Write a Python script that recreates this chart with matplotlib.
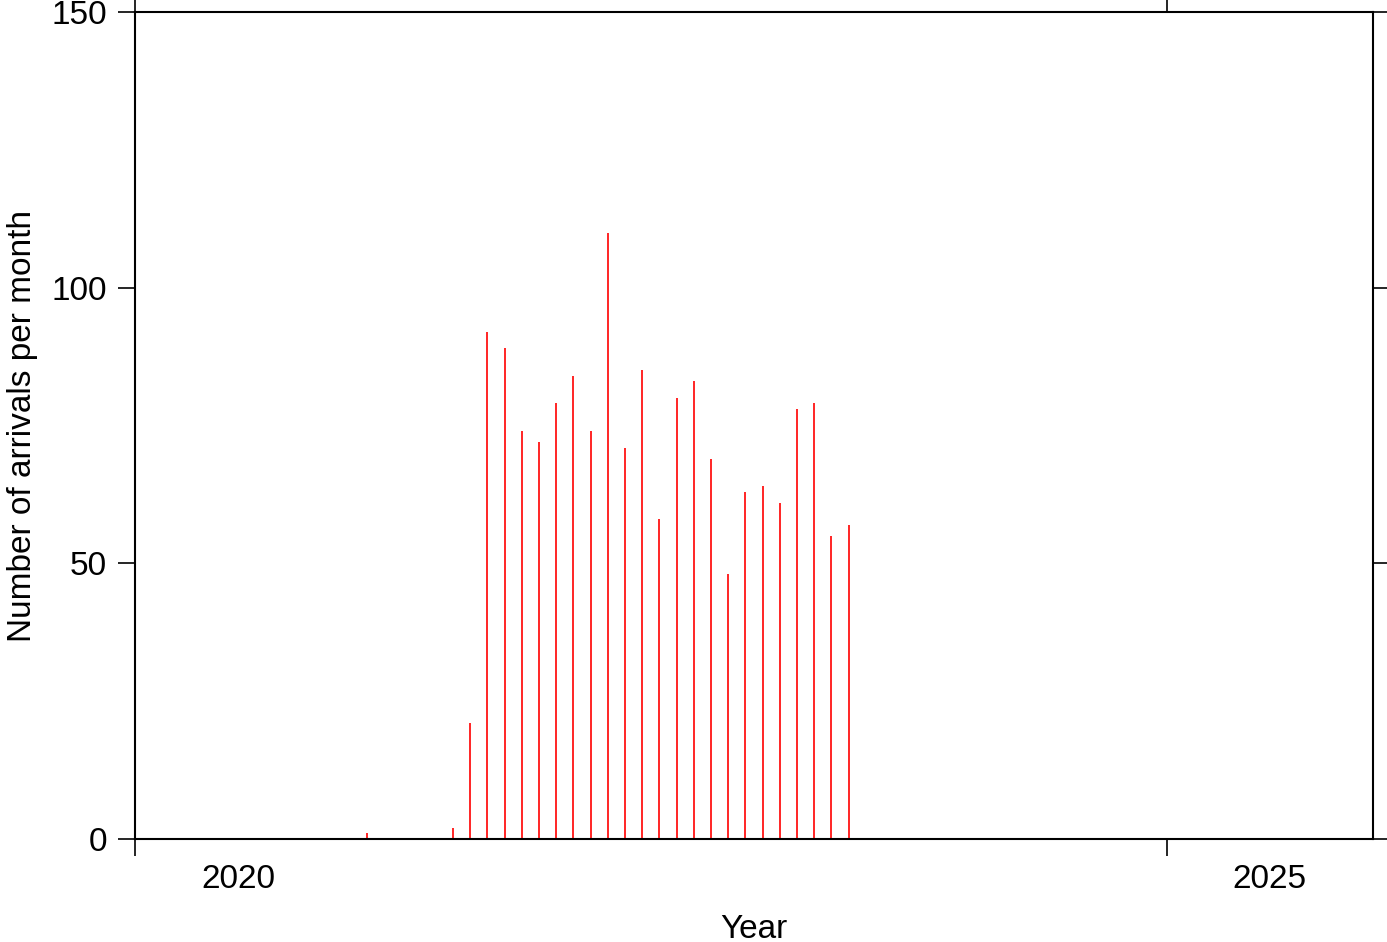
import matplotlib
matplotlib.use("Agg")
import matplotlib.pyplot as plt
from matplotlib.ticker import FixedLocator, NullFormatter, FixedFormatter

plt.rcParams['font.family'] = ['Liberation Sans', 'DejaVu Sans']

# monthly arrival counts
months = [2, 7, 8, 9, 10, 11, 12,
          1, 2, 3, 4, 5, 6, 7, 8, 9, 10, 11, 12,
          1, 2, 3, 4, 5, 6]
years = [2021] * 7 + [2022] * 12 + [2023] * 6
counts = [1, 2, 21, 92, 89, 74, 72,
          79, 84, 74, 110, 71, 85, 58, 80, 83, 69, 48, 63,
          64, 61, 78, 79, 55, 57]

year_ticks = [2020, 2025]
y_ticks = [0, 50, 100, 150]

# bars drawn at the middle of each month
xpos = [y + (m - 0.5) / 12 for y, m in zip(years, months)]

fig = plt.figure(figsize=(13.87, 9.42), dpi=100)
ax = fig.add_axes([135 / 1387, 1 - 839 / 942, 1238 / 1387, 827 / 942])

ax.vlines(xpos, 0, counts, colors='red', linewidth=1.2)

ax.set_xlim(2020, 2026)
ax.set_ylim(0, 150)

for s in ax.spines.values():
    s.set_linewidth(1.5)

# year ticks at start of year, labels centred in the year interval
ax.xaxis.set_major_locator(FixedLocator(year_ticks))
ax.xaxis.set_major_formatter(NullFormatter())
ax.xaxis.set_minor_locator(FixedLocator([y + 0.5 for y in year_ticks]))
ax.xaxis.set_minor_formatter(FixedFormatter([str(y) for y in year_ticks]))
ax.tick_params(axis='x', which='major', direction='out', length=12, width=1.2,
               top=True, bottom=True)
ax.tick_params(axis='x', which='minor', length=0, pad=18, labelsize=24)

ax.set_yticks(y_ticks)
ax.tick_params(axis='y', direction='out', length=12, width=1.2,
               left=True, right=True, labelsize=24, pad=8)

ax.set_xlabel('Year', fontsize=24, labelpad=14)
ax.set_ylabel('Number of arrivals per month', fontsize=24, labelpad=10)

fig.savefig('out.png', dpi=100)
